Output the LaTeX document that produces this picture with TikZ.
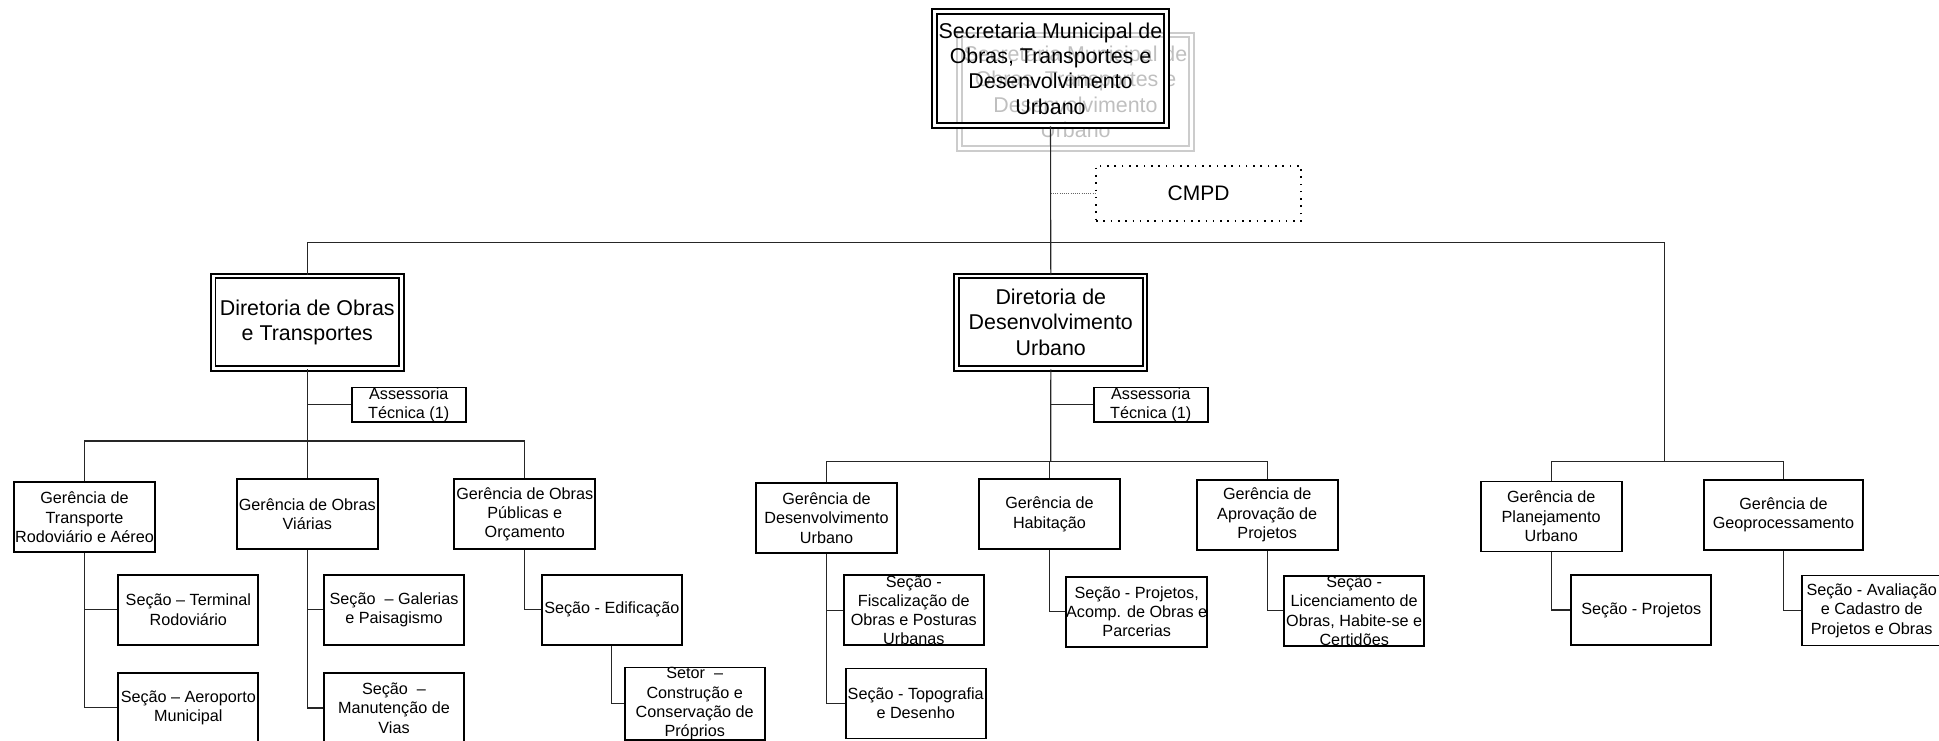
\documentclass[tikz,border=0pt]{standalone}
\usepackage{fontspec}
\setmainfont{Liberation Sans}
\begin{document}
\begin{tikzpicture}[x=1pt,y=-1pt,
  box/.style={draw=black, line width=1.8pt, inner sep=0pt, align=center,
    minimum width=140pt, minimum height=70pt, font=\fontsize{16.2}{19.3}\selectfont},
  ger/.style={box, minimum width=141pt},
  dbox/.style={draw=black, double=white, line width=1.8pt, double distance=2.9pt,
    inner sep=0pt, align=center, font=\fontsize{21.4}{25.3}\selectfont},
  ghostbox/.style={dbox, draw=black!20, text=black!25},
  assbox/.style={box, minimum width=114pt, minimum height=32.7pt},
  dotbox/.style={draw=black, line width=1.6pt, dash pattern=on 1.6pt off 5.7pt,
    inner sep=0pt, minimum width=205pt, minimum height=55.3pt, font=\fontsize{21}{25}\selectfont},
  conn/.style={draw=black!85, line width=1.1pt},
  dotconn/.style={draw=black!60, line width=0.8pt, dash pattern=on 1pt off 1.2pt}]
\useasboundingbox (0,0) rectangle (1939,740);

% ghost copy behind the top box
\node[ghostbox, minimum width=232.3pt, minimum height=113.7pt] (ghost) at (1075.5,91.8)
  {Secretaria Municipal de\\Obras, Transportes e\\Desenvolvimento\\Urbano};
\node[dbox, minimum width=232.3pt, minimum height=113.7pt] (sec) at (1050.5,68.5)
  {Secretaria Municipal de\\Obras, Transportes e\\Desenvolvimento\\Urbano};

\node[dotbox] (cmpd) at (1198.5,193.35) {CMPD};

\node[dbox, minimum width=188.3pt, minimum height=92.5pt] (DO) at (307.3,322.25)
  {Diretoria de Obras\\e Transportes};
\node[dbox, minimum width=188.3pt, minimum height=92.5pt] (DD) at (1050.8,322.25)
  {Diretoria de\\Desenvolvimento\\Urbano};

\node[assbox] (asDO) at (408.75,404.65) {Assessoria\\Técnica (1)};
\node[assbox] (asDU) at (1150.7,404.65) {Assessoria\\Técnica (1)};

% gerencias
\node[ger] (transp) at (84.5,517.2) {Gerência de\\Transporte\\Rodoviário e Aéreo};
\node[ger] (viarias) at (307.3,513.9) {Gerência de Obras\\Viárias};
\node[ger] (publicas) at (524.8,514.2) {Gerência de Obras\\Públicas e\\Orçamento};
\node[ger] (dug) at (826.5,517.9) {Gerência de\\Desenvolvimento\\Urbano};
\node[ger] (hab) at (1049.5,514.3) {Gerência de\\Habitação};
\node[ger] (aprov) at (1267.2,515) {Gerência de\\Aprovação de\\Projetos};
\node[ger] (planej) at (1551.2,516.4) {Gerência de\\Planejamento\\Urbano};
\node[ger, minimum width=159pt] (geo) at (1783.5,515) {Gerência de\\Geoprocessamento};

% secoes
\node[box] (terminal) at (188.3,609.8) {Seção – Terminal\\Rodoviário};
\node[box] (aeroporto) at (188.3,707.7) {Seção – Aeroporto\\Municipal};
\node[box] (galerias) at (394,609.8) {Seção~ – Galerias\\e Paisagismo};
\node[box] (manut) at (394,708) {Seção~ –\\Manutenção de\\Vias};
\node[box] (edif) at (611.8,609.8) {Seção - Edificação};
\node[box] (setor) at (694.7,703.7) {Setor~ –\\Construção e\\Conservação de\\Próprios};
\node[box] (fisc) at (913.8,610.3) {Seção -\\Fiscalização de\\Obras e Posturas\\Urbanas};
\node[box] (topo) at (915.7,703.5) {Seção - Topografia\\e Desenho};
\node[box] (projacomp) at (1136.7,611.7) {Seção - Projetos,\\Acomp. de Obras e\\Parcerias};
\node[box] (licenc) at (1354.2,610.8) {Seção -\\Licenciamento de\\Obras, Habite-se e\\Certidões};
\node[box] (secproj) at (1641.3,610) {Seção - Projetos};
\node[box] (aval) at (1871.7,610.5) {Seção - Avaliação\\e Cadastro de\\Projetos e Obras};

% junctions
\coordinate (tbR) at (1664.3,242.3);
\coordinate (rbus) at (1664.3,461.7);
\coordinate (dob) at (307.3,441);
\coordinate (dub) at (1050.7,461.7);
\coordinate (cmj) at (1050.7,193.35);

% connectors
\draw[conn] (sec.south) -- (DD.north);
\draw[dotconn] (cmj) -- (cmpd.west);
\draw[conn] (DO.north) -- (DO.north |- tbR) -- (tbR) -- (rbus);
\draw[conn] (planej.north) |- (rbus) -| (geo.north);

\draw[conn] (DO.south) -- (dob) -- (viarias.north);
\draw[conn] (transp.north) |- (dob) -| (publicas.north);
\draw[conn] (DO.south |- asDO.west) -- (asDO.west);

\draw[conn] (DD.south) -- (dub);
\draw[conn] (dug.north) |- (dub) -| (aprov.north);
\draw[conn] (hab.north |- dub) -- (hab.north);
\draw[conn] (DD.south |- asDU.west) -- (asDU.west);

\draw[conn] (transp.south) |- (terminal.west);
\draw[conn] (transp.south) |- (aeroporto.west);
\draw[conn] (viarias.south) |- (galerias.west);
\draw[conn] (viarias.south) |- (manut.west);
\draw[conn] (publicas.south) |- (edif.west);
\draw[conn] (edif.south) |- (setor.west);
\draw[conn] (dug.south) |- (fisc.west);
\draw[conn] (dug.south) |- (topo.west);
\draw[conn] (hab.south) |- (projacomp.west);
\draw[conn] (aprov.south) |- (licenc.west);
\draw[conn] (planej.south) |- (secproj.west);
\draw[conn] (geo.south) |- (aval.west);
\end{tikzpicture}
\end{document}
